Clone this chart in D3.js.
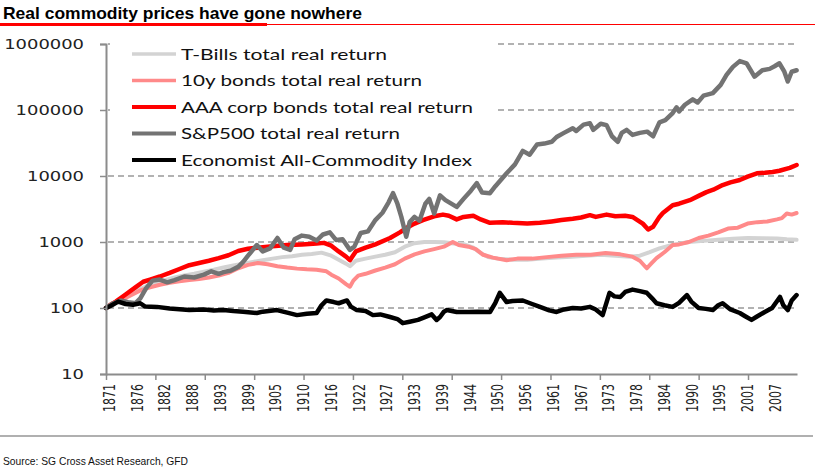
<!DOCTYPE html>
<html><head><meta charset="utf-8">
<script src="https://cdnjs.cloudflare.com/ajax/libs/d3/7.8.5/d3.min.js"></script>
<style>body{margin:0;background:#fff}</style>
</head><body><svg id="c" width="822" height="471"></svg>
<script>
const title = "Real commodity prices have gone nowhere";
const source = "Source: SG Cross Asset Research, GFD";
const seriesNames = ["T-Bills total real return","10y bonds total real return","AAA corp bonds total real return","S&P500 total real return","Economist All-Commodity Index"];
const yTickValues = [10,100,1000,10000,100000,1000000];
const xLabels = ["1871","1876","1882","1888","1893","1899","1905","1910","1916","1922","1927","1933","1939","1944","1950","1956","1961","1967","1973","1978","1984","1990","1995","2001","2007"];
const labelStepMonths = 68, tickStepMonths = 121, tickCount = 14;

const tbills = [[1871,100],[1873,125],[1875,150],[1877,180],[1879,210],[1881,240],[1883,265],[1885,290],[1887,310],[1889,330],[1891,355],[1893,380],[1895,410],[1897,440],[1899,470],[1901,500],[1903,530],[1905,560],[1907,590],[1909,610],[1911,640],[1913,660],[1915,690],[1917,620],[1918.5,540],[1920,470],[1920.8,430],[1922,520],[1924,560],[1926,600],[1928,640],[1930,700],[1932,850],[1934,960],[1936,1000],[1938,1000],[1940,990],[1942,950],[1944,930],[1946,820],[1947.5,680],[1949,590],[1951,560],[1954,540],[1957,540],[1960,560],[1963,580],[1966,600],[1969,620],[1972,640],[1975,620],[1978,600],[1980,620],[1982,700],[1984,800],[1986,880],[1988,940],[1990,1000],[1993,1040],[1996,1080],[1999,1120],[2002,1150],[2005,1140],[2008,1130],[2010,1100],[2012,1080]];
const bonds10y = [[1871,100],[1872,115],[1874,130],[1876,155],[1878,185],[1880,205],[1882,225],[1884,240],[1886,255],[1888,265],[1890,275],[1892,290],[1894,310],[1896,340],[1898,400],[1900,450],[1902,480],[1904,460],[1906,430],[1908,410],[1910,395],[1912,385],[1914,380],[1916,360],[1917,320],[1918.5,280],[1920,230],[1920.8,210],[1921.5,260],[1922.5,310],[1924,330],[1926,370],[1928,410],[1930,460],[1932,560],[1934,650],[1936,720],[1938,780],[1940,850],[1941.8,1000],[1943,900],[1945,850],[1946.5,780],[1948,640],[1950,580],[1952.8,530],[1955,560],[1958,560],[1961,590],[1964,620],[1967,640],[1970,640],[1973,680],[1976,650],[1978.5,600],[1980,520],[1981.4,400],[1982.3,470],[1983.4,570],[1985,700],[1986.7,900],[1988,920],[1990,1000],[1992,1150],[1994,1250],[1996,1400],[1998,1600],[2000,1650],[2002,1900],[2004,2000],[2006,2050],[2008,2200],[2009,2300],[2010,2700],[2011,2600],[2012,2750]];
const aaaBonds = [[1871,100],[1873,125],[1875,160],[1877,205],[1878.6,250],[1880,270],[1882,300],[1884,340],[1886,390],[1888,445],[1890,480],[1892,520],[1894,570],[1896,630],[1898,730],[1900,790],[1902,820],[1905,860],[1908,900],[1911,920],[1914,950],[1915.5,970],[1917,880],[1918.5,720],[1920,600],[1920.8,530],[1922,720],[1924,820],[1926,920],[1929,1150],[1931,1400],[1932.4,1640],[1934,1900],[1935.7,2150],[1938,2450],[1939.8,2600],[1941,2500],[1942.6,2200],[1944,2400],[1946,2500],[1947.5,2200],[1949.4,1950],[1952,2000],[1954,1950],[1957,1900],[1959.6,1950],[1962,2050],[1964,2150],[1966.3,2250],[1968,2350],[1969.8,2550],[1971,2400],[1973.2,2600],[1975,2450],[1977,2500],[1978.5,2400],[1979.5,2150],[1980.6,1900],[1981.7,1550],[1982.7,1700],[1984,2400],[1984.7,2750],[1986.7,3600],[1988,3800],[1990.2,4300],[1992,5000],[1993.6,5700],[1995,6200],[1996.9,7300],[1998.5,8000],[2000.4,8700],[2002,9800],[2003.9,11000],[2005.5,11200],[2007.1,11500],[2008.5,12000],[2010.6,13300],[2012,14700]];
const sp500 = [[1871,100],[1872.5,118],[1874,130],[1875.5,122],[1877,118],[1878,140],[1879.2,200],[1880.5,260],[1882,270],[1883.5,245],[1885,265],[1887,300],[1889,290],[1891,320],[1892.5,360],[1894,330],[1895,350],[1896.5,370],[1898,420],[1899,500],[1900,620],[1901.8,900],[1903,720],[1904.5,800],[1906,1150],[1907.3,820],[1908.6,760],[1909.5,1100],[1911,1250],[1912.5,1200],[1914,1050],[1915.3,1300],[1916.7,1400],[1918,1070],[1919.3,1100],[1920.8,760],[1921.7,850],[1923,1370],[1924.5,1450],[1926,2150],[1927.5,2800],[1928.7,4000],[1929.6,5500],[1930.5,3800],[1931.3,2400],[1932.3,1200],[1933,2000],[1934,2400],[1935,2100],[1936.2,3800],[1937,4500],[1938,2700],[1939.2,5100],[1940.3,4300],[1942.6,3400],[1944,4500],[1945.5,6000],[1946.7,7800],[1947.8,5600],[1949.4,5500],[1950.5,7000],[1952.8,11000],[1954.5,15000],[1956.1,24000],[1957.5,21000],[1959,30000],[1960.5,31000],[1962,33000],[1963,39000],[1964.5,45000],[1966.3,53000],[1967,48000],[1968.5,60000],[1969.8,63000],[1970.5,50000],[1972,62000],[1973.2,59000],[1974.3,40000],[1975.5,33000],[1976.3,45000],[1977.3,50000],[1978.5,42000],[1980,45000],[1981.5,47000],[1982.7,40000],[1984,65000],[1985.2,70000],[1986.7,90000],[1987.5,110000],[1988,95000],[1989.2,120000],[1990.8,145000],[1991.8,130000],[1993,165000],[1994.9,180000],[1996.5,240000],[1997.7,340000],[1999,450000],[2000.4,550000],[2001.8,510000],[2002.8,380000],[2003.4,320000],[2005,400000],[2006.5,420000],[2007.5,460000],[2008.5,510000],[2009.5,380000],[2010.2,270000],[2011,380000],[2012,400000]];
const commodity = [[1871,100],[1872,108],[1873.5,125],[1875,115],[1876.5,112],[1878,118],[1879,105],[1881.4,104],[1884,98],[1886,96],[1888,93],[1891,95],[1893,92],[1895,93],[1897,90],[1899,88],[1901.8,84],[1903,88],[1905.9,93],[1908,85],[1910,78],[1912,82],[1914,84],[1915,110],[1916,130],[1917.5,123],[1918.5,118],[1920.2,130],[1921,105],[1922.2,93],[1924,90],[1925.5,78],[1927,80],[1929,73],[1930.5,68],[1931.6,59],[1933,62],[1934.7,66],[1936,72],[1937.5,80],[1938.5,66],[1939.2,73],[1940,88],[1940.6,93],[1942.6,87],[1945,87],[1947,88],[1949.4,87],[1950.5,120],[1951.4,170],[1952.8,123],[1954,128],[1956.1,130],[1958,115],[1959.6,104],[1961.5,92],[1963,87],[1964.5,95],[1966.3,100],[1968,98],[1969.8,104],[1971,95],[1972.4,78],[1973.8,170],[1974.8,150],[1976,147],[1977,175],[1978.5,190],[1980,180],[1981.4,170],[1982.5,140],[1983.4,118],[1985,110],[1986.7,104],[1988,120],[1989.6,157],[1990.5,125],[1992,100],[1993.5,97],[1994.9,93],[1996,110],[1996.9,118],[1998.5,95],[2000.4,84],[2001.5,75],[2002.8,66],[2004,75],[2005.5,87],[2007,100],[2008.6,147],[2009.3,110],[2010.2,93],[2011,130],[2012,157]];

const seriesData = [tbills, bonds10y, aaaBonds, sp500, commodity];
const colors = ["#d3d3d3","#ff8a8a","#ff0000","#737373","#000000"];
const widths = [4,4,4.5,4.5,4.5];
const legendWidths = [3.5,3.5,4,4,4];

const svg = d3.select("#c");
svg.append("rect").attr("width",822).attr("height",471).attr("fill","#fff");

const x = d3.scaleLinear().domain([1871, 1871 + 1693/12]).range([106, 797]);
const y = d3.scaleLog().domain([10, 1000000]).range([374, 44]);

// title
svg.append("text").text(title).attr("x",3).attr("y",18.5)
  .attr("font-family","Liberation Sans, Arial, sans-serif").attr("font-weight","bold")
  .attr("font-size",17).attr("textLength",359).attr("lengthAdjust","spacingAndGlyphs").attr("fill","#000");
svg.append("line").attr("x1",267).attr("x2",815).attr("y1",24.5).attr("y2",24.5).attr("stroke","#ff0000").attr("stroke-width",1);
svg.append("line").attr("x1",0).attr("x2",267).attr("y1",24.5).attr("y2",24.5).attr("stroke","#ff0000").attr("stroke-width",3);

// gridlines
svg.append("g").selectAll("line").data(yTickValues.slice(1)).join("line")
  .attr("x1",108).attr("x2",797).attr("y1",d=>y(d)).attr("y2",d=>y(d))
  .attr("stroke","#999").attr("stroke-width",1.5).attr("stroke-dasharray","6,4");

// series
const line = d3.line().x(d=>x(d[0])).y(d=>y(d[1]));
seriesData.forEach((s,i)=>{
  svg.append("path").datum(s).attr("d",line).attr("fill","none")
    .attr("stroke",colors[i]).attr("stroke-width",widths[i]).attr("stroke-linejoin","round").attr("stroke-linecap","round");
});

// legend
const lg = svg.append("g");
lg.append("rect").attr("x",110).attr("y",36).attr("width",387).attr("height",134).attr("fill","#fff");
const legendTextLen = [206,241,292,219,291];
seriesNames.forEach((n,i)=>{
  const ly = 54 + i*26.5;
  lg.append("line").attr("x1",132).attr("x2",176).attr("y1",ly).attr("y2",ly)
    .attr("stroke",colors[i]).attr("stroke-width",legendWidths[i]);
  lg.append("text").text(n).attr("x",181).attr("y",ly).attr("dy","0.36em")
    .attr("font-family","Lato, 'Open Sans', sans-serif").attr("font-size",16)
    .attr("textLength",legendTextLen[i]).attr("lengthAdjust","spacingAndGlyphs").attr("fill","#111");
});

// y axis
const yAxis = d3.axisLeft(y).tickValues(yTickValues).tickFormat(d=>String(d)).tickSize(6).tickPadding(6);
const ya = svg.append("g").attr("transform","translate(106,0)").call(yAxis);
ya.select(".domain").attr("stroke","#8c8c8c").attr("stroke-width",2);
ya.selectAll(".tick line").attr("stroke","#8c8c8c").attr("stroke-width",1.5);
ya.selectAll(".tick text").attr("x",-22).attr("font-family","DejaVu Sans, sans-serif").attr("font-size",14.5).attr("fill","#222")
  .attr("textLength",d=>String(d).length*11.4).attr("lengthAdjust","spacingAndGlyphs");

// x axis
const tickYears = d3.range(tickCount).map(k=>1871 + k*tickStepMonths/12);
const xAxis = d3.axisBottom(x).tickValues(tickYears).tickFormat("").tickSize(6).tickSizeOuter(0);
const xa = svg.append("g").attr("transform","translate(0,374)").call(xAxis);
xa.select(".domain").attr("stroke","#8c8c8c").attr("stroke-width",2);
xa.selectAll(".tick line").attr("stroke","#8c8c8c").attr("stroke-width",1.5);

svg.append("g").selectAll("text").data(xLabels).join("text")
  .attr("transform",(d,k)=>`translate(${x(1871 + k*labelStepMonths/12)+3},384) rotate(-90)`)
  .attr("text-anchor","end").attr("dy","0.36em").text(d=>d)
  .attr("font-family","DejaVu Sans, sans-serif").attr("font-size",16).attr("fill","#222")
  .attr("textLength",28).attr("lengthAdjust","spacingAndGlyphs");

// bottom rule and source
svg.append("line").attr("x1",0).attr("x2",813).attr("y1",436).attr("y2",436).attr("stroke","#b0b0b0").attr("stroke-width",2);
svg.append("text").text(source).attr("x",3).attr("y",465)
  .attr("font-family","Liberation Sans, Arial, sans-serif").attr("font-size",11.5)
  .attr("textLength",185).attr("lengthAdjust","spacingAndGlyphs").attr("fill","#111");
</script></body></html>
